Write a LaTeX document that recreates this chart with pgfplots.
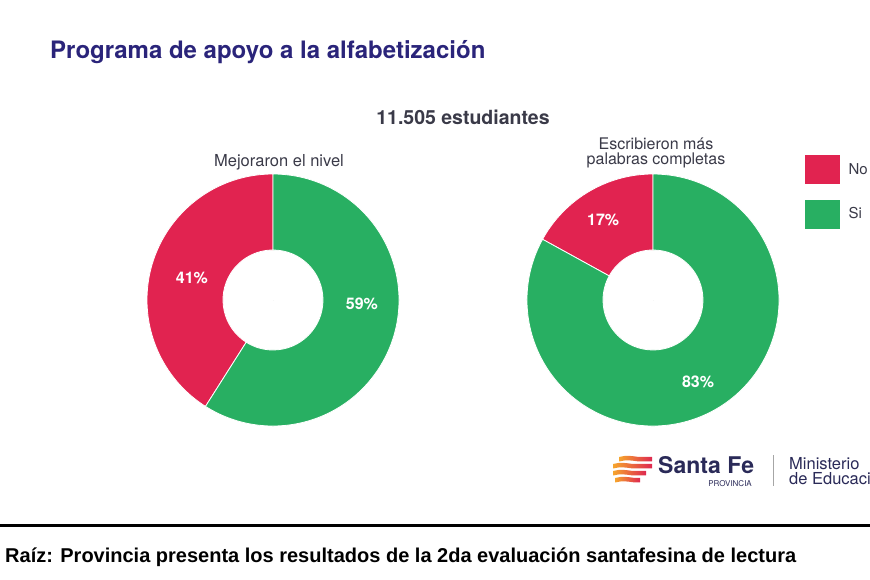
\documentclass[border=0pt]{standalone}
\usepackage{pgfplots}
\pgfplotsset{compat=1.18}
\usepackage{pgfplotstable}
\usepackage{fontspec}
\setmainfont{TeX Gyre Heros}
\newfontfamily\capfont{Liberation Sans}

\definecolor{titlecol}{RGB}{42,36,122}
\definecolor{darktext}{RGB}{58,58,72}
\definecolor{sliceno}{RGB}{225,35,80}
\definecolor{slicesi}{RGB}{40,175,98}
\definecolor{logonavy}{RGB}{42,42,88}
\definecolor{logoorange}{RGB}{246,165,45}
\definecolor{logored}{RGB}{222,40,80}

% one row per donut: centre, start angle, share in %, label angle and radius
\pgfplotstableread{
cx  cy  start  pct  lang   lrad
273 300 90     41   164.8  84
653 300 90     17   122    94
}\nodata
\pgfplotstableread{
cx  cy  start  pct  lang   lrad
273 300 237.6  59   -2.6   89
653 300 151.2  83   -61.2  93.5
}\sidata

\pgfplotsset{
  donut slice/.style={
    scatter, only marks, mark=*, mark size=0pt,
    visualization depends on={\thisrow{start} \as \angstart},
    visualization depends on={\thisrow{pct} \as \pctval},
    visualization depends on={\thisrow{lang} \as \labang},
    visualization depends on={\thisrow{lrad} \as \labrad},
    scatter/@pre marker code/.code={
      \pgfmathsetmacro\angend{\angstart+3.6*\pctval}
      \fill[#1, draw=white, line width=0.8pt]
        (\angstart:126pt) arc[start angle=\angstart, end angle=\angend, radius=126pt]
        -- (\angend:50pt) arc[start angle=\angend, end angle=\angstart, radius=50pt]
        -- cycle;
      \node[text=white, font=\bfseries\fontsize{16}{18}\selectfont]
        at (\labang:\labrad pt)
        {\pgfmathprintnumber[fixed, precision=0, assume math mode=true]{\pctval}\%};
    },
    scatter/@post marker code/.code={},
    legend image code/.code={\fill[#1] (0pt,-14pt) rectangle (34pt,14pt);},
  },
}

\begin{document}
\begin{tikzpicture}
\useasboundingbox (0,0) rectangle (870pt,580pt);
\begin{axis}[
  at={(0,0)}, anchor=south west,
  width=870pt, height=580pt, scale only axis,
  xmin=0, xmax=870, ymin=0, ymax=580, y dir=reverse,
  hide axis, clip=false,
  legend style={at={(axis cs:805,155)}, anchor=north west,
    draw=none, fill=none, inner sep=0pt,
    font=\fontsize{15}{18}\selectfont\color{darktext},
    row sep=16pt,
    nodes={inner sep=0pt},
    /tikz/every odd column/.append style={column sep=9pt}},
  legend cell align=left,
]
\addplot[donut slice=sliceno] table[x=cx, y=cy] {\nodata};
\addlegendentry{No}
\addplot[donut slice=slicesi] table[x=cx, y=cy] {\sidata};
\addlegendentry{Si}

% headings
\node[anchor=base west, text=titlecol, inner sep=0pt,
      font=\bfseries\fontsize{24}{28}\selectfont]
  at (axis cs:50,59) {Programa de apoyo a la alfabetización};
\node[anchor=base, text=darktext, inner sep=0pt,
      font=\bfseries\fontsize{19.5}{24}\selectfont]
  at (axis cs:463,125) {11.505 estudiantes};
\node[anchor=base, text=darktext, inner sep=0pt,
      font=\fontsize{16.5}{19}\selectfont]
  at (axis cs:279,167) {Mejoraron el nivel};
\node[anchor=base, text=darktext, inner sep=0pt,
      font=\fontsize{16}{19}\selectfont]
  at (axis cs:656,149.5) {Escribieron más};
\node[anchor=base, text=darktext, inner sep=0pt,
      font=\fontsize{16}{19}\selectfont]
  at (axis cs:656,165) {palabras completas};

% logo text
\node[anchor=base west, text=logonavy, inner sep=0pt,
      font=\bfseries\fontsize{23}{26}\selectfont]
  at (axis cs:658,473) {Santa Fe};
\node[anchor=base east, text=logonavy, inner sep=0pt,
      font=\fontsize{8}{9}\selectfont]
  at (axis cs:752,486) {PROVINCIA};
\draw[gray!70, line width=1pt] (axis cs:773,455) -- (axis cs:773,486);
\node[anchor=base west, text=logonavy, inner sep=0pt,
      font=\fontsize{16.5}{19}\selectfont]
  at (axis cs:789,469) {Ministerio};
\node[anchor=base west, text=logonavy, inner sep=0pt,
      font=\fontsize{16.5}{19}\selectfont]
  at (axis cs:789,484) {de Educación};

% caption strip
\draw[black, line width=3.5pt] (axis cs:0,525.5) -- (axis cs:870,525.5);
\node[anchor=base west, text=black, inner sep=0pt,
      font=\capfont\bfseries\fontsize{20}{24}\selectfont]
  at (axis cs:5,562) {Raíz: Provincia presenta los resultados de la 2da evaluación santafesina de lectura};
\end{axis}

% logo stripes (picture coordinates, y measured from the bottom)
\foreach \yy/\xl/\xr in {123/619/652, 116/613/652, 109/613/646, 102/615/640} {
  \shade[left color=logoorange, right color=logored]
    (\xl pt,\yy pt) .. controls (\xl pt+7pt,\yy pt+2pt) and (\xl pt+13pt,\yy pt+1pt)
    .. (\xl pt+20pt,\yy pt) -- (\xr pt,\yy pt) -- (\xr pt,\yy pt-4.5pt)
    -- (\xl pt+20pt,\yy pt-4.5pt)
    .. controls (\xl pt+13pt,\yy pt-3.5pt) and (\xl pt+7pt,\yy pt-2.5pt)
    .. (\xl pt,\yy pt-4.5pt) -- cycle;
}
\end{tikzpicture}
\end{document}
